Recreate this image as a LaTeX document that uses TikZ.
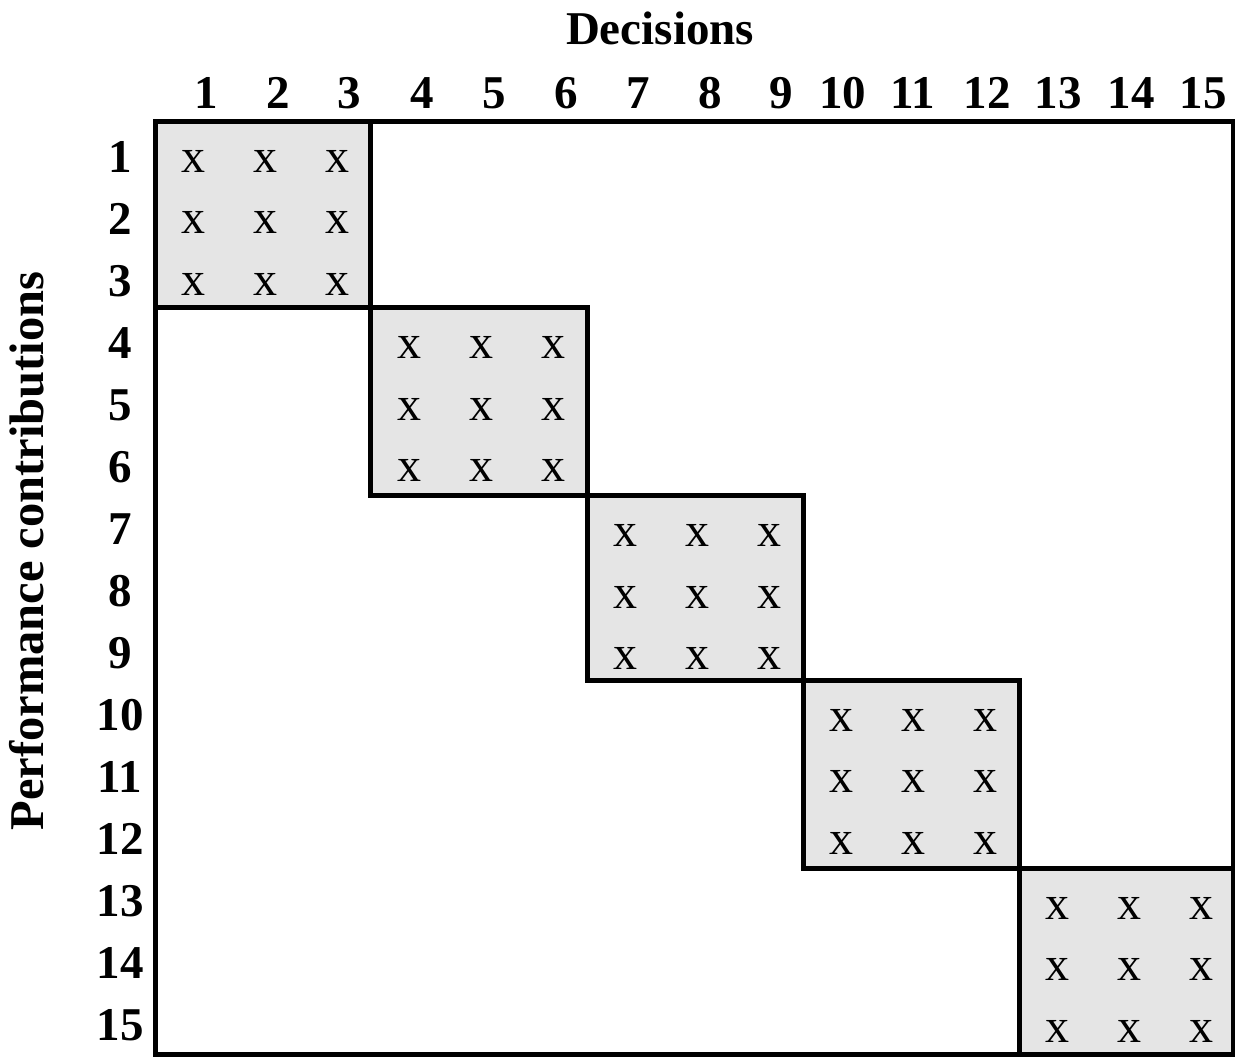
\documentclass[tikz,border=0pt]{standalone}
\usepackage{fontspec}
\setmainfont{Liberation Serif}
\begin{document}
\begin{tikzpicture}[x=1pt,y=-1pt,
  lbl/.style={font=\fontsize{47}{56}\selectfont\bfseries, inner sep=0pt, anchor=base},
  xmark/.style={font=\fontsize{48}{56}\selectfont, inner sep=0pt, anchor=center},
  blockfill/.style={fill=black!10},
  frame/.style={draw=black, line width=5pt}]
\useasboundingbox (0,0) rectangle (1235,1057);
% shaded blocks
\foreach \b/\xa/\xb/\ya/\yb in {1/155/370.5/121/307.5, 2/370.5/587/307.5/495.5, 3/587/803/495.5/680, 4/803/1019/680/868, 5/1019/1233/868/1054.5}{
  \fill[blockfill] (\xa,\ya) rectangle (\xb,\yb);
  \foreach \i in {0,1,2}{
    \foreach \j in {0,1,2}{
      \pgfmathsetmacro{\px}{\xa+38.5+72*\j}
      \pgfmathsetmacro{\py}{\ya+40+61.5*\i}
      \node[xmark] (xm-\b-\i-\j) at (\px,\py) {x};
    }
  }
}
% outer frame and block outlines
\draw[frame] (155,121) rectangle (1233,1054.5);
\foreach \b/\xa/\xb/\ya/\yb in {1/155/370.5/121/307.5, 2/370.5/587/307.5/495.5, 3/587/803/495.5/680, 4/803/1019/680/868, 5/1019/1233/868/1054.5}{
  \draw[frame] (\xa,\ya) rectangle (\xb,\yb);
}
% column labels
\foreach \k/\cx in {1/206, 2/278, 3/349, 4/422.5, 5/494, 6/566, 7/638, 8/710, 9/781, 10/842.5, 11/913, 12/987, 13/1058, 14/1131, 15/1203}{
  \node[lbl] (col\k) at (\cx,108) {\k};
}
% row labels
\foreach \k in {1,...,15}{
  \pgfmathsetmacro{\ry}{172+62.07*(\k-1)}
  \node[lbl] (row\k) at (120,\ry) {\k};
}
% titles
\node[lbl] (dec) at (660,45) {Decisions};
\node[lbl, rotate=90, font=\fontsize{48.5}{56}\selectfont\bfseries] (perf) at (43,551) {Performance contributions};
\end{tikzpicture}
\end{document}
